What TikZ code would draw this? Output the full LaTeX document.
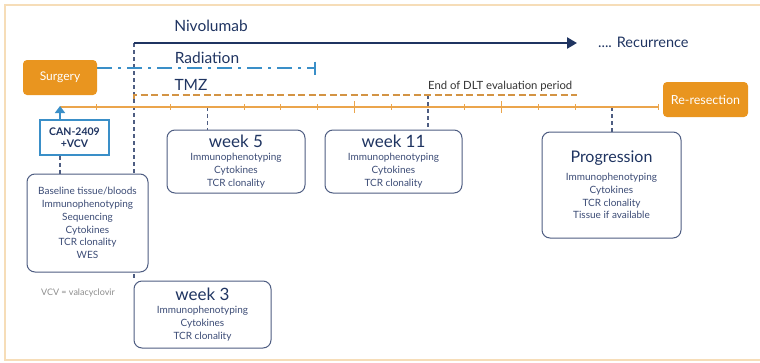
\documentclass[tikz,border=0pt]{standalone}
\usepackage{fontspec}
\setmainfont{Lato}
\usetikzlibrary{arrows.meta,backgrounds,calc}
\definecolor{navy}{HTML}{1F3461}
\definecolor{boxline}{HTML}{4E5D82}
\definecolor{boxtext}{HTML}{3C4C76}
\definecolor{orng}{HTML}{E9951F}
\definecolor{axisorng}{HTML}{EBA54C}
\definecolor{radblue}{HTML}{3A8FC8}
\definecolor{framec}{HTML}{F6DDB8}
\begin{document}
\begin{tikzpicture}[x=1pt,y=-1pt,
  orangebox/.style={fill=orng, rounded corners=4pt, text=white, inner sep=0pt,
    font=\fontsize{12}{14}\selectfont},
  infobox/.style={draw=boxline, line width=1pt, rounded corners=8pt, fill=white,
    align=center, text=boxtext, inner sep=0pt, font=\fontsize{10}{12.8}\selectfont},
  label/.style={text=navy, inner sep=0pt, font=\fontsize{15.5}{17}\selectfont},
  guide/.style={draw=boxline, line width=1.2pt, dash pattern=on 4pt off 3pt},
  tick/.style={draw=axisorng, line width=1pt}
]
\useasboundingbox (0,0) rectangle (760,362);

% outer frame
\draw[framec, line width=2pt] (760,5) -- (5,5) -- (5,360) -- (760,360);

% treatment lines
\coordinate (nivoA) at (134,43);
\coordinate (nivoB) at (577,43);
\coordinate (radA) at (97,68);
\coordinate (radB) at (316,68);
\coordinate (tmzA) at (134,99);
\coordinate (tmzB) at (577,95);
\coordinate (t0) at (60,107);
\coordinate (tend) at (658,107);

\node[label] (nivo) at (211,26) {Nivolumab};
\node[label] (rad) at (207,58) {Radiation};
\node[label] (tmz) at (191,85) {TMZ};
\node[text=navy, inner sep=0pt, font=\fontsize{14.5}{16}\selectfont, anchor=west] (recur) at (598,42) {.... Recurrence};
\node[text=black!80, inner sep=0pt, font=\fontsize{11.3}{13}\selectfont, anchor=west] (dlt) at (428,86) {End of DLT evaluation period};

\draw[navy, line width=2.5pt, -{Triangle[length=10pt,width=11pt]}] (nivoA) -- (nivoB);
\draw[radblue, line width=2pt, dash pattern=on 15pt off 6pt on 3pt off 6pt,
      -{Bar[width=13pt,line width=2pt]}] (radA) -- (radB);
\draw[axisorng!90!black, line width=2pt, dash pattern=on 7pt off 3.5pt] (tmzA) -- (134,95) -- (tmzB);

% time axis
\draw[axisorng, line width=1.5pt] (t0) -- (tend);
\draw[tick] (tend) ++(0,-3) -- ++(0,6);
\foreach \k in {1,3,5,6,7,9,11,13,14} {
  \draw[tick] ($(t0)+(36.8*\k,-3)$) -- ++(0,6);
}
\foreach \k in {8,12} {
  \draw[tick, line width=1.5pt] ($(t0)+(36.8*\k,-6)$) -- ++(0,12);
}
\coordinate (m5) at ($(t0)+(36.8*4,0)$);
\coordinate (m11) at ($(t0)+(36.8*10,0)$);
\coordinate (mp) at ($(t0)+(36.8*15,0)$);

% event boxes
\node[orangebox, minimum width=74pt, minimum height=35pt] (surgery) at (60,77.5) {Surgery};
\node[orangebox, minimum width=85pt, minimum height=35pt, font=\fontsize{12.5}{14}\selectfont] (reres) at (705.5,99.5) {Re-resection};

\node[draw=radblue, line width=1.8pt, fill=white, align=center, text=navy, inner sep=0pt,
      minimum width=69pt, minimum height=35pt, font=\fontsize{10.5}{12.5}\selectfont\bfseries]
      (can) at (74.5,137.5) {CAN-2409\\+VCV};

\node[infobox, minimum width=121pt, minimum height=98pt] (base) at (87.5,223)
  {Baseline tissue/bloods\\Immunophenotyping\\Sequencing\\Cytokines\\TCR clonality\\WES};

\node[text=black!45, inner sep=0pt, font=\fontsize{9}{11}\selectfont] (vcv) at (78,293) {VCV = valacyclovir};

\node[infobox, minimum width=138pt, minimum height=63pt] (w5) at (236,161.5)
  {{\fontsize{17}{15}\selectfont\color{navy}week 5}\\Immunophenotyping\\Cytokines\\TCR clonality};
\node[infobox, minimum width=137pt, minimum height=63pt] (w11) at (393.5,161.5)
  {{\fontsize{17}{15}\selectfont\color{navy}week 11}\\Immunophenotyping\\Cytokines\\TCR clonality};
\node[infobox, minimum width=139pt, minimum height=106pt] (prog) at (611.5,185)
  {{\fontsize{16}{22}\selectfont\color{navy}Progression}\\[5pt]Immunophenotyping\\Cytokines\\TCR clonality\\Tissue if available};
\node[infobox, minimum width=137pt, minimum height=67pt] (w3) at (202.5,314.5)
  {{\fontsize{17}{15}\selectfont\color{navy}week 3}\\Immunophenotyping\\Cytokines\\TCR clonality};

% connectors
\draw[radblue, line width=2.5pt, -{Triangle[length=7pt,width=10pt]}] (surgery |- can.north) -- ($(t0)+(0,-1)$);
\begin{scope}[on background layer]
  \draw[guide] (nivoA) -- (w3.north west -| nivoA);
  \draw[guide] (surgery |- can.south) -- (surgery |- base.north);
  \draw[guide] (m5) -- (w5.north -| m5);
  \draw[guide] (m11 |- tmzB) -- (w11.north -| m11);
  \draw[guide] (mp) -- (prog.north -| mp);
\end{scope}
\end{tikzpicture}
\end{document}
